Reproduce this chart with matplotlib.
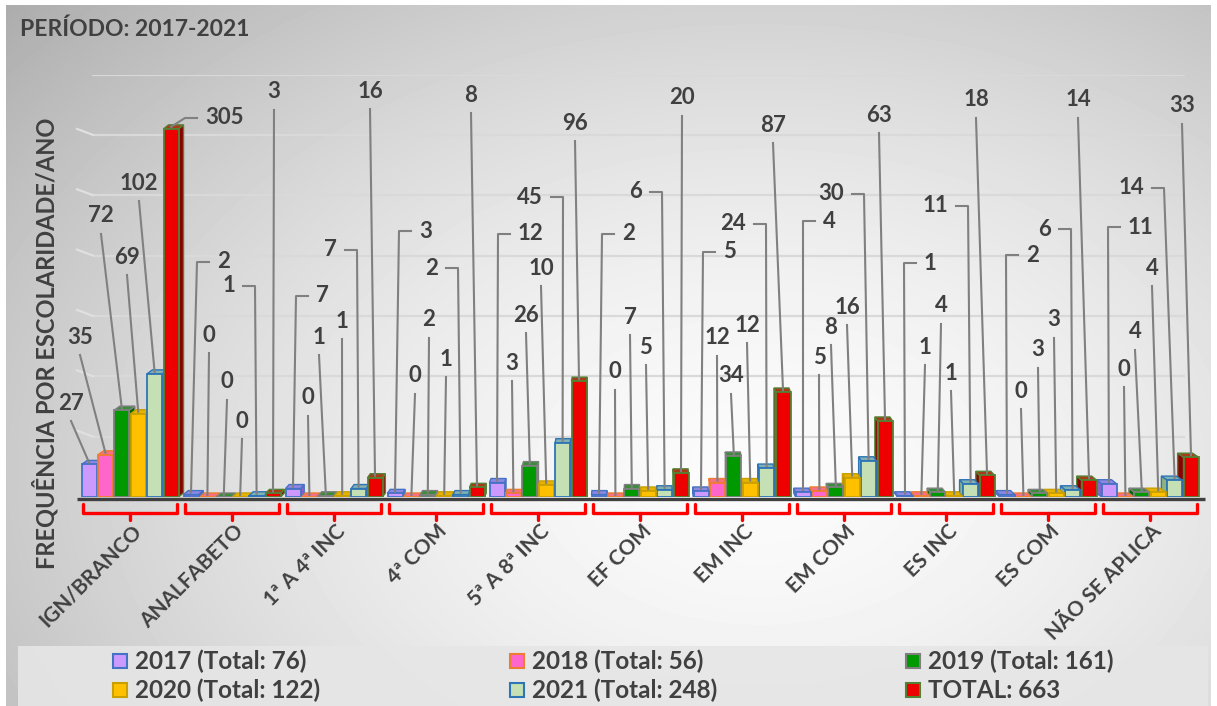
import numpy as np
import matplotlib.pyplot as plt
from matplotlib.patches import Polygon, Rectangle
from matplotlib.colors import to_rgb

plt.rcParams['font.family'] = ['Lato', 'DejaVu Sans']
plt.rcParams['font.weight'] = 'bold'

# --- data -------------------------------------------------------------
categories = ['IGN/BRANCO', 'ANALFABETO', '1ª A 4ª INC', '4ª COM', '5ª A 8ª INC',
              'EF COM', 'EM INC', 'EM COM', 'ES INC', 'ES COM', 'NÃO SE APLICA']
v2017 = [27, 2, 7, 3, 12, 2, 5, 4, 1, 2, 11]
v2018 = [35, 0, 0, 0, 3, 0, 12, 5, 1, 0, 0]
v2019 = [72, 0, 1, 2, 26, 7, 34, 8, 4, 3, 4]
v2020 = [69, 0, 1, 1, 10, 5, 12, 16, 1, 3, 4]
v2021 = [102, 1, 7, 2, 45, 6, 24, 30, 11, 6, 14]
v_total = [305, 3, 16, 8, 96, 20, 87, 63, 18, 14, 33]
legend_labels = ['2017 (Total: 76)', '2018 (Total: 56)', '2019 (Total: 161)',
                 '2020 (Total: 122)', '2021 (Total: 248)', 'TOTAL: 663']
series = [v2017, v2018, v2019, v2020, v2021, v_total]

# --- styles -----------------------------------------------------------
face = ['#CC99FF', '#FF66CC', '#009900', '#FFC000', '#C5E0B4', '#EE0000']
edge = ['#4472C4', '#ED7D31', '#7F7F7F', '#C9A000', '#2E75B6', '#548235']
side = ['#8E63C9', '#C4418F', '#006600', '#B88A00', '#8FB37A', '#8B0000']
TXT = '#404040'

# pixel layout of the canvas
W, H = 1217, 706
X0, STEP = 130, 102        # centre of first category, px per category
BASE, PPU = 497, 1.207     # zero line, px per unit
BAR_STEP, BAR_W = 16.4, 15.0
MID = 640

# data-label placement (px): text centre for 'v', knee of the leader for 'L'/'R'
label_px = [
    [(71, 403), (80, 337), (101, 216), (127, 257), (139, 183), (185, 118)],
    [(197, 262), (209, 335), (227, 382), (242, 421), (255, 286), (274, 92)],
    [(296, 296), (308, 398), (319, 337), (342, 321), (357, 250), (370, 91)],
    [(399, 231), (415, 376), (429, 320), (446, 359), (458, 268), (471, 95)],
    [(498, 234), (512, 363), (526, 315), (541, 268), (563, 197), (575, 123)],
    [(602, 234), (615, 372), (630, 317), (646, 347), (662, 192), (682, 98)],
    [(703, 252), (717, 338), (731, 376), (747, 325), (766, 224), (773, 125)],
    [(803, 221), (819, 357), (831, 327), (847, 307), (864, 194), (879, 115)],
    [(904, 263), (925, 347), (941, 306), (951, 373), (968, 206), (976, 100)],
    [(1006, 255), (1021, 391), (1038, 350), (1054, 320), (1071, 229), (1078, 100)],
    [(1108, 227), (1124, 369), (1135, 332), (1152, 268), (1164, 188), (1182, 106)],
]
label_mode = ['vvvvvL'] + ['LvvvRv'] * 10


def xd(px):
    return (px - X0) / STEP


def yd(py):
    return (BASE - py) / PPU


fig = plt.figure(figsize=(W / 100, H / 100), dpi=100)
fig.patch.set_facecolor('white')

# background axes in pixel units
bg = fig.add_axes([0, 0, 1, 1])
gy, gx = np.mgrid[5:H, 6:1211]
r = np.sqrt(((gx - 760) / 820.0) ** 2 + ((gy - 470) / 560.0) ** 2)
shade = 0.985 - 0.22 * np.clip(r, 0, 1.3) ** 1.6
bg.imshow(shade, cmap='gray', vmin=0, vmax=1, extent=[6, 1211, H, 5],
          aspect='auto', interpolation='bilinear')
bg.set_xlim(0, W)
bg.set_ylim(H, 0)
bg.axis('off')

ax = fig.add_axes([70 / W, 1 - BASE / H, (1212 - 70) / W, 350 * PPU / H])
ax.set_xlim(xd(70), xd(1212))
ax.set_ylim(0, 350)
ax.axis('off')

# gridlines on the back wall, with a short bend on the side wall
ax.hlines(np.arange(50, 351, 50), xd(93), xd(1185), color='#D9D9D9', lw=1.6, zorder=0)
for g in np.arange(50, 351, 50):
    ax.plot([xd(77), xd(93)], [g + 6 / PPU, g], color='#E0E0E0', lw=1.6, zorder=0)

# 3D-looking bars: far-from-centre first so nearer bars cover their sides
order = []
for i in range(len(categories)):
    for j in range(len(series)):
        bx = X0 + i * STEP + (j - 2.5) * BAR_STEP
        order.append((abs(bx - MID), i, j, bx))
order.sort(reverse=True)

dy = 4 / PPU
wd = BAR_W / STEP
for z, (_, i, j, bx) in enumerate(order):
    v = series[j][i]
    k = np.clip((MID - bx) / 560.0, -1, 1)
    dx = 6 * k / STEP
    x0, x1 = xd(bx) - wd / 2, xd(bx) + wd / 2
    sx = x1 if dx > 0 else x0
    zz = 1 + z * 0.01
    topc = tuple(0.55 * a + 0.45 * b for a, b in zip(to_rgb(face[j]), to_rgb(edge[j])))
    ax.add_patch(Polygon([(sx, 0), (sx, v), (sx + dx, v + dy), (sx + dx, dy)],
                         closed=True, fc=side[j], ec=edge[j], lw=1, zorder=zz))
    ax.add_patch(Polygon([(x0, v), (x1, v), (x1 + dx, v + dy), (x0 + dx, v + dy)],
                         closed=True, fc=topc, ec=edge[j], lw=1, zorder=zz))
    ax.bar(xd(bx), v, width=wd, color=face[j], edgecolor=edge[j], lw=1.3, zorder=zz + 0.005)

# baseline
ax.plot([xd(77), xd(1205)], [yd(498.5)] * 2, color='#404040', lw=2.4,
        solid_capstyle='butt', zorder=20, clip_on=False)

# data labels with leader lines
for i in range(len(categories)):
    for j in range(len(series)):
        v = series[j][i]
        bx = X0 + i * STEP + (j - 2.5) * BAR_STEP
        px, py = label_px[i][j]
        mode = label_mode[i][j]
        start = (xd(bx), v + 2 / PPU)
        if mode == 'v':
            pts = [start, (xd(px), yd(py + 18))]
            tx, ha = px, 'center'
        elif mode == 'L':
            pts = [start, (xd(px), yd(py)), (xd(px + 12), yd(py))]
            tx, ha = px + 20, 'left'
        else:
            pts = [start, (xd(px), yd(py)), (xd(px - 12), yd(py))]
            tx, ha = px - 20, 'right'
        xs, ys = zip(*pts)
        ax.plot(xs, ys, color='#808080', lw=1.5, zorder=30, clip_on=False)
        ax.text(xd(tx), yd(py), str(v), ha=ha, va='center', fontsize=16,
                color=TXT, fontweight='bold', zorder=31, clip_on=False)

# category brackets and rotated names
for i, name in enumerate(categories):
    cx = X0 + i * STEP
    bg.plot([cx - 47, cx - 47, cx + 47, cx + 47], [504, 513, 513, 504],
            color='#FF0000', lw=2.4, solid_joinstyle='round', solid_capstyle='round')
    bg.plot([cx, cx], [513, 520], color='#FF0000', lw=2.4, solid_capstyle='round')
    bg.text(cx + 1, 521, name, rotation=45, rotation_mode='anchor', ha='right',
            va='top', fontsize=15, color=TXT, fontweight='bold')

# titles
bg.text(20, 29, 'PERÍODO: 2017-2021', ha='left', va='center', fontsize=16.5,
        color=TXT, fontweight='bold')
bg.text(45, 343, 'FREQUÊNCIA POR ESCOLARIDADE/ANO', rotation=90, ha='center',
        va='center', fontsize=17, color=TXT, fontweight='bold')

# legend
bg.add_patch(Rectangle((18, 646), 1190, 62, fc='#E6E6E6', ec='none', alpha=0.9))
leg_x = [113, 510, 906]
leg_y = [661, 690]
for n, lab in enumerate(legend_labels):
    rr, cc = divmod(n, 3)
    bg.add_patch(Rectangle((leg_x[cc], leg_y[rr] - 7), 14, 14, fc=face[n],
                           ec=edge[n], lw=1.5))
    bg.text(leg_x[cc] + 22, leg_y[rr], lab, ha='left', va='center', fontsize=17.5,
            color=TXT, fontweight='bold')

fig.savefig('out.png', dpi=100)
